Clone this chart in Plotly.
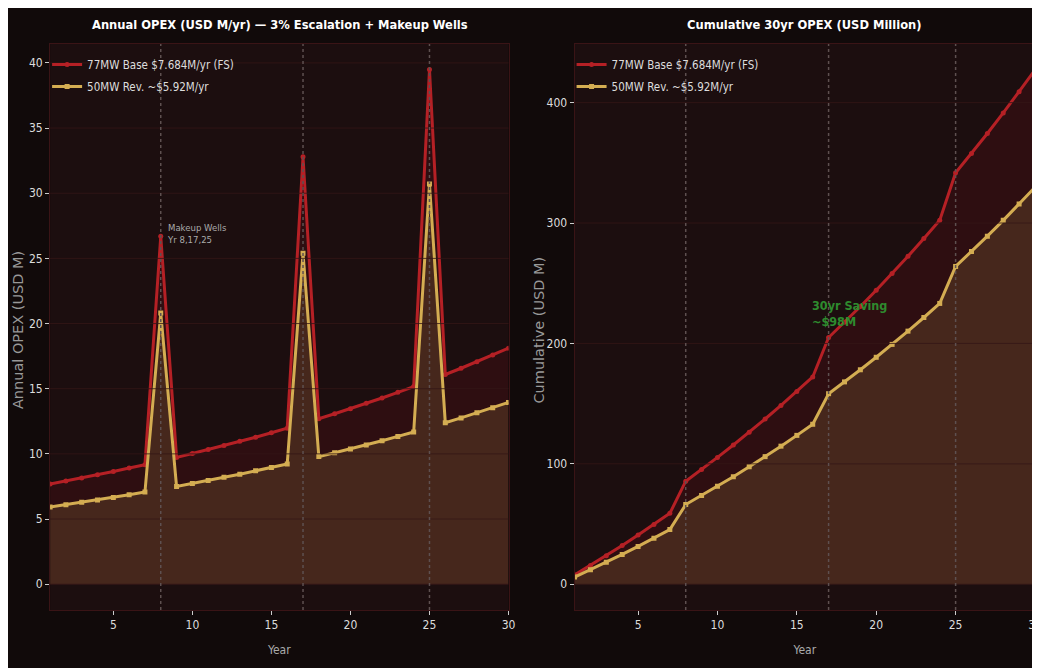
import numpy as np
import plotly.graph_objects as go

years = list(range(1, 31))
opex_77 = [7.68, 7.91, 8.15, 8.40, 8.65, 8.91, 9.17, 26.7, 9.73, 10.03,
           10.33, 10.64, 10.96, 11.28, 11.62, 11.97, 32.8, 12.70, 13.08, 13.47,
           13.88, 14.29, 14.72, 15.16, 39.5, 16.09, 16.57, 17.07, 17.58, 18.11]
opex_50 = [5.92, 6.10, 6.28, 6.47, 6.66, 6.86, 7.07, 20.8, 7.50, 7.72,
           7.96, 8.20, 8.44, 8.70, 8.96, 9.22, 25.4, 9.79, 10.08, 10.38,
           10.69, 11.01, 11.34, 11.68, 30.7, 12.39, 12.76, 13.15, 13.54, 13.95]
cum_77 = np.cumsum(opex_77).tolist()
cum_50 = np.cumsum(opex_50).tolist()
makeup_years = [8, 17, 25]
left_yticks = [0, 5, 10, 15, 20, 25, 30, 35, 40]
right_yticks = [0, 100, 200, 300, 400]
xticks = [5, 10, 15, 20, 25, 30]
name_77 = "77MW Base $7.684M/yr (FS)"
name_50 = "50MW Rev. ~$5.92M/yr"

RED = "#b52025"
GOLD = "#d4ad52"
BROWN_FILL = "#46271c"
RED_FILL = "#2e0e11"
PLOT_BG = "#1c0e0f"
PAPER_BG = "#110a0a"
GRID = "rgba(52,22,23,0.8)"
COND = "DejaVu Sans Condensed, DejaVu Sans, sans-serif"
WIDE = "DejaVu Sans, sans-serif"
OFF = 8
W, H = 1040, 668
SX = 1040 / 1048

fig = go.Figure()

def add_panel(xa, ya, y77, y50, legend, tag):
    fig.add_trace(go.Scatter(x=years, y=y50, mode="lines", line=dict(width=0, color=GOLD),
                             fill="tozeroy", fillcolor=BROWN_FILL, showlegend=False,
                             hoverinfo="skip", xaxis=xa, yaxis=ya))
    fig.add_trace(go.Scatter(x=years, y=y77, mode="lines", line=dict(width=0, color=RED),
                             fill="tonexty", fillcolor=RED_FILL, showlegend=False,
                             hoverinfo="skip", xaxis=xa, yaxis=ya))
    fig.add_trace(go.Scatter(x=years, y=y77, mode="lines+markers", name=name_77,
                             line=dict(width=3, color=RED),
                             marker=dict(symbol="circle", size=5, color=RED),
                             legend=legend, legendgroup="a" + tag, xaxis=xa, yaxis=ya))
    fig.add_trace(go.Scatter(x=years, y=y50, mode="lines+markers", name=name_50,
                             line=dict(width=3, color=GOLD),
                             marker=dict(symbol="square", size=5, color=GOLD),
                             legend=legend, legendgroup="b" + tag, xaxis=xa, yaxis=ya))

add_panel("x", "y", opex_77, opex_50, "legend", "1")
add_panel("x2", "y2", cum_77, cum_50, "legend2", "2")

for xr, yr, ticks in [("x", "y", left_yticks), ("x2", "y2", right_yticks)]:
    for t in ticks:
        fig.add_shape(type="line", xref=xr + " domain", yref=yr, x0=0, x1=1, y0=t, y1=t,
                      line=dict(color=GRID, width=1), layer="above")
    for yrv in makeup_years:
        fig.add_shape(type="line", xref=xr, yref=yr + " domain", x0=yrv, x1=yrv, y0=0, y1=1,
                      line=dict(color="#5e5050", width=1.5, dash="dot"), layer="above")

def px_x(v):
    return min(1.0, max(0.0, (v / SX - OFF) / W))

def px_y(v):
    return min(1.0, max(0.0, 1 - (v - OFF) / H))

ydom = [px_y(610), px_y(44)]
axis_common = dict(showgrid=False, zeroline=False, showline=True, linecolor="#3a1416",
                   mirror=True, ticks="outside", ticklen=4, tickcolor="#cccccc",
                   tickfont=dict(size=12, color="#dddddd", family=COND))
legend_common = dict(xanchor="left", yanchor="top", bgcolor="rgba(0,0,0,0)",
                     font=dict(size=11.5, color="#dddddd", family=COND),
                     tracegroupgap=3, traceorder="grouped")

fig.update_layout(
    width=W, height=H,
    paper_bgcolor=PAPER_BG, plot_bgcolor=PLOT_BG,
    margin=dict(l=0, r=0, t=0, b=0),
    font=dict(family=COND, color="#dddddd"),
    xaxis=dict(axis_common, domain=[px_x(50), px_x(508)], range=[1, 30], tickvals=xticks,
               title=dict(text="Year", font=dict(size=12, color="#aaaaaa", family=COND),
                          standoff=14)),
    yaxis=dict(axis_common, domain=ydom, range=[-1.98, 41.45], tickvals=left_yticks),
    xaxis2=dict(axis_common, domain=[px_x(574), px_x(1034)], range=[1, 30], tickvals=xticks,
                anchor="y2",
                title=dict(text="Year", font=dict(size=12, color="#aaaaaa", family=COND),
                           standoff=14)),
    yaxis2=dict(axis_common, domain=ydom, range=[-21.4, 448.7], anchor="x2",
                tickvals=right_yticks),
    legend=dict(legend_common, x=px_x(47), y=px_y(50)),
    legend2=dict(legend_common, x=px_x(571), y=px_y(50)),
    showlegend=True,
)

fig.add_annotation(x=px_x(280), y=px_y(25), xref="paper", yref="paper",
                   text="<b>Annual OPEX (USD M/yr) — 3% Escalation + Makeup Wells</b>",
                   showarrow=False, font=dict(size=12.8, color="#ffffff", family=COND),
                   xanchor="center", yanchor="middle")
fig.add_annotation(x=px_x(804), y=px_y(25), xref="paper", yref="paper",
                   text="<b>Cumulative 30yr OPEX (USD Million)</b>",
                   showarrow=False, font=dict(size=12.8, color="#ffffff", family=COND),
                   xanchor="center", yanchor="middle")
fig.add_annotation(x=px_x(18), y=px_y(330), xref="paper", yref="paper",
                   text="Annual OPEX (USD M)", textangle=-90, showarrow=False,
                   font=dict(size=14.5, color="#999999", family=WIDE),
                   xanchor="center", yanchor="middle")
fig.add_annotation(x=px_x(538), y=px_y(330), xref="paper", yref="paper",
                   text="Cumulative (USD M)", textangle=-90, showarrow=False,
                   font=dict(size=14.5, color="#999999", family=WIDE),
                   xanchor="center", yanchor="middle")
fig.add_annotation(x=8.3, y=25.9, xref="x", yref="y", text="Makeup Wells<br>Yr 8,17,25",
                   showarrow=False, align="left", xanchor="left", yanchor="bottom",
                   font=dict(size=9.5, color="#aaaaaa", family=COND))
fig.add_annotation(x=15.85, y=225, xref="x2", yref="y2", text="<b>30yr Saving<br>~$98M</b>",
                   showarrow=False, align="left", xanchor="left", yanchor="middle",
                   font=dict(size=12.5, color="#2e8b2e", family=COND))

fig.write_html("out.html")
